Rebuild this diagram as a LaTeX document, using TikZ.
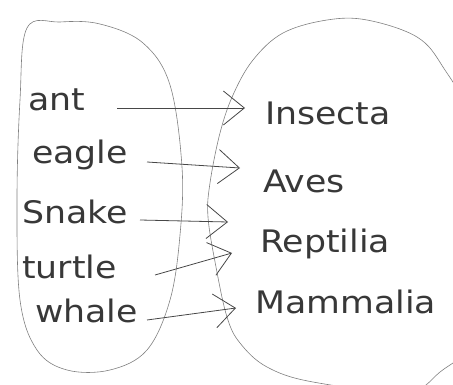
\documentclass[tikz,border=0pt]{standalone}
\usepackage{fontspec}
\setmainfont{DejaVu Sans}
\usetikzlibrary{arrows.meta,calc}
\newcommand\hw[1]{\scalebox{1.12}[1]{#1}}
\begin{document}
\begin{tikzpicture}[x=1pt,y=-1pt,
  word/.style={inner sep=0pt, anchor=base west, text=black!78, font=\fontsize{31}{36}\selectfont},
  oval/.style={draw=black!50, line width=0.6pt},
  arr/.style={draw=black!72, line width=0.8pt, -{Straight Barb[length=21pt,width=34pt,line width=0.8pt]}}]
\useasboundingbox (0,0) rectangle (453,385);
\clip (0,0) rectangle (453,385);
% left oval
\draw[oval] plot[smooth cycle, tension=0.6] coordinates {(27,28) (60,22) (100,24) (143,43) (170,85) (182,167) (180,235) (170,300) (147,350) (110,370) (67,370) (37,350) (20,300) (17,200) (20,100)};
% right oval
\draw[oval] plot[smooth cycle, tension=0.6] coordinates {(253,60) (283,33) (327,20) (367,20) (417,37) (443,67) (470,120) (490,230) (475,335) (440,372) (405,392) (313,382) (267,367) (240,343) (227,317) (216,267) (208,217) (210,183) (220,133) (233,95)};
% words
\node[word] (ant) at (28,111) {\hw{ant}};
\node[word] (eagle) at (32,164) {\hw{eagle}};
\node[word] (snake) at (22,224) {\hw{Snake}};
\node[word] (turtle) at (22,279) {\hw{turtle}};
\node[word] (whale) at (35,322) {\hw{whale}};
\node[word] (insecta) at (265,125) {\hw{Insecta}};
\node[word] (aves) at (263,193) {\hw{Aves}};
\node[word] (reptilia) at (260,252) {\hw{Reptilia}};
\node[word] (mammalia) at (255,313) {\hw{Mammalia}};
% arrows
\draw[arr] ($(ant.base west)+(89,-3)$) -- ($(insecta.base west)+(-20,-17)$);
\draw[arr] ($(eagle.base west)+(115,-2)$) -- ($(aves.base west)+(-23,-25)$);
\draw[arr] ($(snake.base west)+(118,-4)$) -- ($(reptilia.base west)+(-32,-30)$);
\draw[arr] ($(turtle.base west)+(133,-4)$) -- ($(reptilia.base west)+(-28,1)$);
\draw[arr] ($(whale.base west)+(112,-2)$) -- ($(mammalia.base west)+(-19,-5)$);
\end{tikzpicture}
\end{document}
